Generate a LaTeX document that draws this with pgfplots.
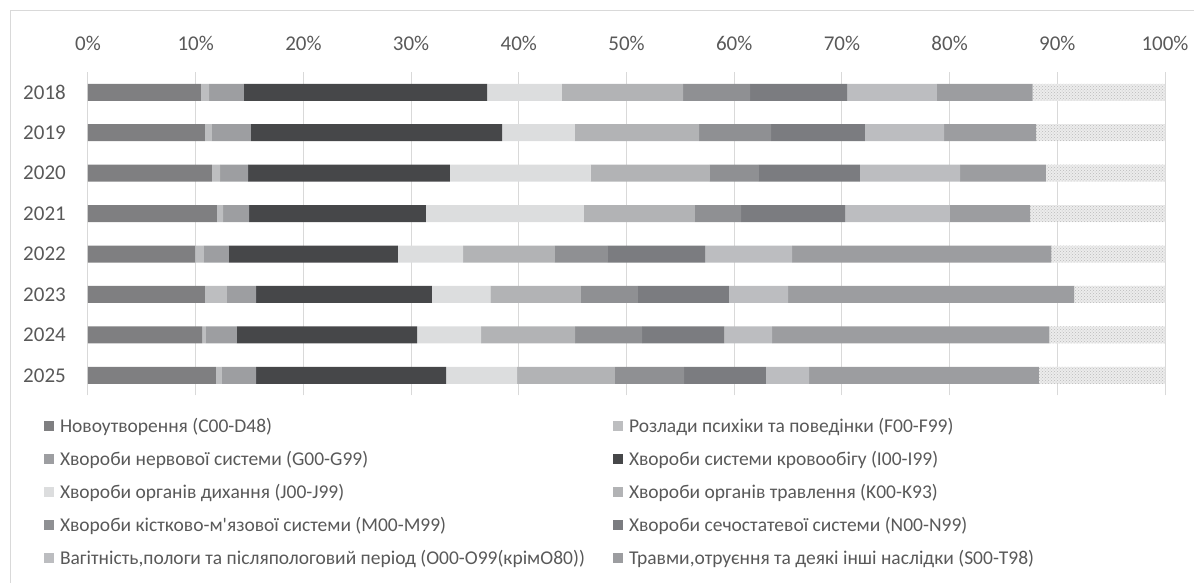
\documentclass[border=0pt]{standalone}
\usepackage{pgfplots}
\pgfplotsset{compat=1.18}
\usepackage{fontspec}
\setmainfont{Carlito}[Ligatures=TeXOff]
\usetikzlibrary{patterns}
\definecolor{txt}{HTML}{595959}
\definecolor{frame}{HTML}{D9D9D9}
\definecolor{gridc}{HTML}{D9D9D9}
\definecolor{cC}{HTML}{7F7F81}
\definecolor{cF}{HTML}{BDBEC0}
\definecolor{cG}{HTML}{9D9EA1}
\definecolor{cI}{HTML}{464749}
\definecolor{cJ}{HTML}{DCDDDE}
\definecolor{cK}{HTML}{B2B3B5}
\definecolor{cM}{HTML}{8F9093}
\definecolor{cN}{HTML}{7B7C80}
\definecolor{cO}{HTML}{BCBDC0}
\definecolor{cS}{HTML}{9C9DA0}
\definecolor{cX}{HTML}{ECECEC}
\definecolor{cXp}{HTML}{BBBBBB}
\begin{document}
\begin{tikzpicture}[x=1pt,y=1pt]
\useasboundingbox (0,0) rectangle (1194,-583);
\draw[frame, line width=1pt] (10.5,-10.5) rectangle (1260,-650);
\begin{axis}[
  at={(88pt,-72.1pt)}, anchor=north west,
  scale only axis, width=1077pt, height=323.4pt,
  xbar stacked, bar width=17pt,
  xmin=0, xmax=100, ymin=-0.5, ymax=7.5,
  xtick={0,10,...,100},
  xticklabels={0\%,10\%,20\%,30\%,40\%,50\%,60\%,70\%,80\%,90\%,100\%},
  xticklabel pos=right,
  ytick={0,...,7}, yticklabels={2025,2024,2023,2022,2021,2020,2019,2018},
  axis line style={draw=none},
  major tick length=0pt,
  xmajorgrids, grid style={color=gridc, line width=1pt},
  tick label style={font=\fontsize{21}{25}\selectfont, text=txt},
  xticklabel style={anchor=base, yshift=22pt, inner sep=0pt},
  yticklabel style={anchor=east, inner sep=0pt, xshift=-22pt},
  every axis plot/.append style={draw=none},
  legend columns=2,
  legend cell align=left,
  legend image code/.code={\path[#1,draw=none] (0pt,-2.25pt) rectangle (9.5pt,7.25pt);},
  legend style={at={(axis description cs:-0.04085,-0.0798)}, anchor=north west,
    draw=none, fill=none, inner sep=0pt, outer sep=0pt,
    row sep=18.5pt, column sep=0pt,
    font=\fontsize{19.5}{23}\selectfont, text=txt,
    nodes={inner sep=0pt, anchor=west, text height=11pt, text depth=3.5pt},
    /tikz/every odd column/.append style={column sep=6.5pt}},
]
\addplot[fill=cC] coordinates {(10.48,7) (10.86,6) (11.51,5) (11.97,4) (9.95,3) (10.86,2) (10.59,1) (11.88,0)};
\addlegendentry{\makebox[553pt][l]{Новоутворення (C00-D48)}}
\addplot[fill=cF] coordinates {(0.76,7) (0.64,6) (0.75,5) (0.57,4) (0.82,3) (2.04,2) (0.36,1) (0.50,0)};
\addlegendentry{Розлади психіки та поведінки (F00-F99)}
\addplot[fill=cG] coordinates {(3.23,7) (3.62,6) (2.60,5) (2.42,4) (2.31,3) (2.70,2) (2.88,1) (3.22,0)};
\addlegendentry{\makebox[553pt][l]{Хвороби нервової системи (G00-G99)}}
\addplot[fill=cI] coordinates {(22.60,7) (23.32,6) (18.74,5) (16.42,4) (15.70,3) (16.34,2) (16.73,1) (17.66,0)};
\addlegendentry{Хвороби системи кровообігу (I00-I99)}
\addplot[fill=cJ] coordinates {(6.93,7) (6.77,6) (13.08,5) (14.67,4) (6.05,3) (5.41,2) (5.93,1) (6.58,0)};
\addlegendentry{\makebox[553pt][l]{Хвороби органів дихання (J00-J99)}}
\addplot[fill=cK] coordinates {(11.25,7) (11.53,6) (11.05,5) (10.29,4) (8.53,3) (8.42,2) (8.75,1) (9.09,0)};
\addlegendentry{Хвороби органів травлення (K00-K93)}
\addplot[fill=cM] coordinates {(6.23,7) (6.69,6) (4.55,5) (4.30,4) (4.90,3) (5.29,2) (6.21,1) (6.43,0)};
\addlegendentry{\makebox[553pt][l]{Хвороби кістково-м'язової системи (M00-M99)}}
\addplot[fill=cN] coordinates {(9.00,7) (8.70,6) (9.40,5) (9.65,4) (9.04,3) (8.44,2) (7.63,1) (7.59,0)};
\addlegendentry{Хвороби сечостатевої системи (N00-N99)}
\addplot[fill=cO] coordinates {(8.33,7) (7.35,6) (9.29,5) (9.74,4) (8.07,3) (5.51,2) (4.44,1) (4.01,0)};
\addlegendentry{\makebox[553pt][l]{Вагітність,пологи та післяпологовий період (O00-O99(крімO80))}}
\addplot[fill=cS] coordinates {(8.89,7) (8.55,6) (7.97,5) (7.44,4) (24.09,3) (26.54,2) (25.74,1) (21.32,0)};
\addlegendentry{Травми,отруєння та деякі інші наслідки (S00-T98)}
\addplot[fill=cX, postaction={pattern=crosshatch dots, pattern color=cXp}, forget plot] coordinates {(12.30,7) (11.97,6) (11.06,5) (12.53,4) (10.54,3) (8.45,2) (10.74,1) (11.72,0)};
\end{axis}
\end{tikzpicture}
\end{document}
